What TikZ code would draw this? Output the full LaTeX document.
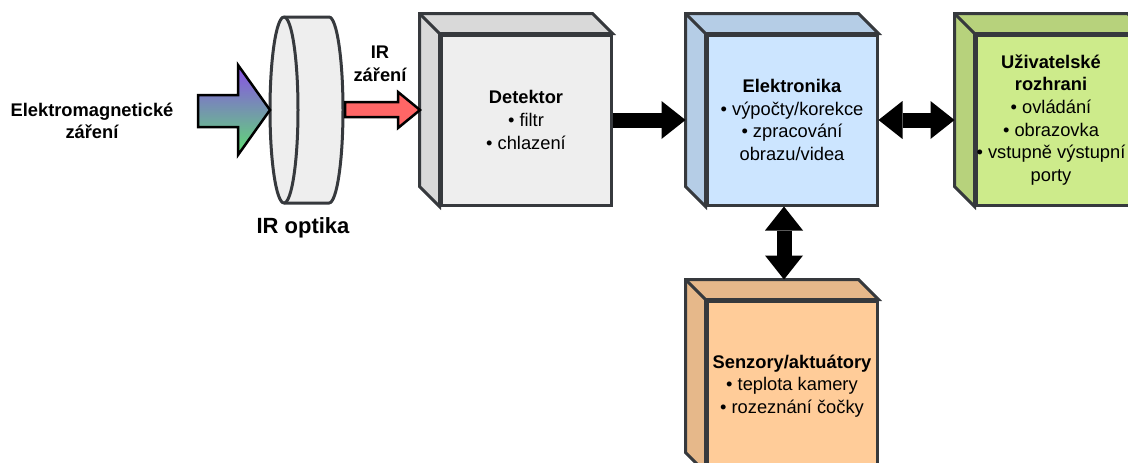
\documentclass[tikz,border=0pt]{standalone}
\usepackage{fontspec}
\setmainfont{Liberation Sans}
\usetikzlibrary{arrows.meta,calc,positioning}
\definecolor{LineGrey}{HTML}{36393D}
\definecolor{DetFront}{HTML}{EEEEEE}
\definecolor{DetSide}{HTML}{D9D9D9}
\definecolor{ElecFront}{HTML}{CCE5FF}
\definecolor{ElecSide}{HTML}{B5CDE6}
\definecolor{UiFront}{HTML}{CDEB8B}
\definecolor{UiSide}{HTML}{B7D27C}
\definecolor{SensFront}{HTML}{FFCC99}
\definecolor{SensSide}{HTML}{E6B88A}
\definecolor{EmPurple}{HTML}{8A4FE8}
\definecolor{EmGreen}{HTML}{5EDD72}
\definecolor{IrRed}{HTML}{FF6666}
\tikzset{
    cube/.style = {draw=LineGrey, line width=3pt, rectangle,
        minimum width=170pt, minimum height=170pt, inner sep=0pt,
        align=center, font=\fontsize{18.3}{22.7}\selectfont},
    cubeside/.style = {draw=LineGrey, line width=3pt},
    cubetext/.style = {align=center, inner sep=0pt, font=\fontsize{18.3}{22.7}\selectfont},
    lens/.style = {draw=LineGrey, line width=3pt, fill=DetFront},
    boldtext/.style = {align=center, font=\bfseries\fontsize{18.3}{22.7}\selectfont},
    bigarrow/.style = {line width=15pt, -{Triangle[length=24pt,width=38pt,line width=0pt]}},
    bigdarrow/.style = {line width=15pt, {Triangle[length=24pt,width=38pt,line width=0pt]}-{Triangle[length=24pt,width=38pt,line width=0pt]}}
}
\begin{document}
\begin{tikzpicture}[x=1pt,y=-1pt]
  \useasboundingbox (0,0) rectangle (1128,463);
  % boxes
  \node[cube,fill=DetFront] (det) at (526,120) {\textbf{Detektor}\\• filtr\\• chlazení};
  \node[cube,fill=ElecFront,right=93pt of det] (elec) {\textbf{Elektronika}\\• výpočty/korekce\\• zpracování\\obrazu/videa};
  \node[cube,fill=UiFront,right=96pt of elec] (ui) {};
  \node[cubetext] (uitext) at ($(ui.center)+(-10,0)$) {\textbf{Uživatelské}\\\textbf{rozhrani}\\• ovládání\\• obrazovka\\• vstupně výstupní\\porty};
  \node[cube,fill=SensFront,below=93pt of elec] (sens) {\textbf{Senzory/aktuátory}\\• teplota kamery\\• rozeznání čočky};
  \foreach \n/\c in {det/DetSide,elec/ElecSide,ui/UiSide,sens/SensSide}{
    \draw[cubeside,fill=\c] (\n.south west) -- ++(-20,-20) |- ($(\n.north east)+(-20,-20)$)
      -- (\n.north east) -- (\n.north west) -- cycle;
    \draw[cubeside] (\n.north west) -- ++(-20,-20);
  };
  % lens
  \draw[lens] (284,17) -- (329,17) arc[start angle=-90,end angle=90,x radius=14,y radius=93]
    -- (284,203) arc[start angle=90,end angle=270,x radius=14,y radius=93] -- cycle;
  \draw[lens,fill=none] (284,17) arc[start angle=-90,end angle=90,x radius=14,y radius=93];
  \node[boldtext,font=\bfseries\fontsize{22}{26}\selectfont] (optika) at (303,228) {IR optika};
  % incoming radiation
  \draw[line width=2.5pt,top color=EmPurple,bottom color=EmGreen]
    (198,95) -- (238,95) -- (238,65) -- (270,110) -- (238,155) -- (238,127) -- (198,127) -- cycle;
  \node[boldtext] (emlabel) at (92,121) {Elektromagnetické\\záření};
  \draw[line width=2.5pt,fill=IrRed]
    (345,102) -- (398,102) -- (398,92) -- (420,110) -- (398,128) -- (398,117) -- (345,117) -- cycle;
  \node[boldtext] (irlabel) at (380,64) {IR\\záření};
  % connections
  \draw[bigarrow] (det.east) -- ($(elec.west)+(-20,0)$);
  \draw[bigdarrow] (elec.east) -- ($(ui.west)+(-20,0)$);
  \draw[bigdarrow] ($(elec.south)+(-8,0)$) -- ($(sens.north)+(-8,-20)$);
\end{tikzpicture}
\end{document}
